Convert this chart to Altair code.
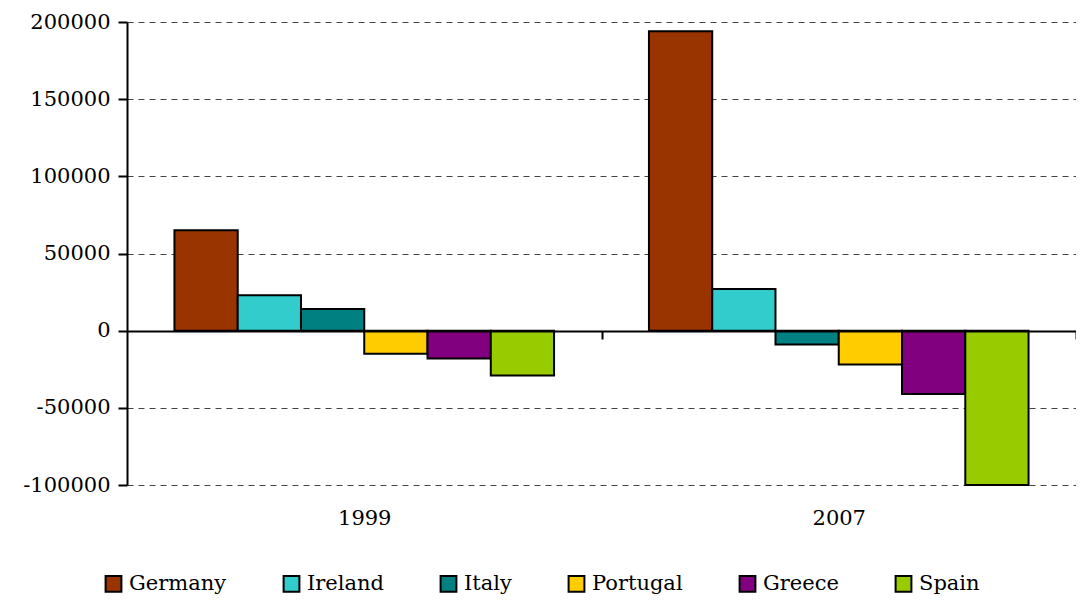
import altair as alt
import pandas as pd

years = ["1999", "2007"]
countries = ["Germany", "Ireland", "Italy", "Portugal", "Greece", "Spain"]
colors = ["#993300", "#33CCCC", "#008080", "#FFCC00", "#800080", "#99CC00"]
values_1999 = [65000, 23000, 14000, -15000, -18000, -29000]
values_2007 = [194000, 27000, -9000, -22000, -41000, -100000]
y_ticks = [-100000, -50000, 0, 50000, 100000, 150000, 200000]

rows = []
for yr, vals in zip(years, [values_1999, values_2007]):
    for c, v in zip(countries, vals):
        rows.append({"year": yr, "country": c, "value": v})
df = pd.DataFrame(rows)

FONT = "DejaVu Serif"
W = 949
HALF_STEP = W / 2 / 2

chart = alt.Chart(df).mark_bar(stroke="black", strokeWidth=2).encode(
    x=alt.X(
        "year:N",
        sort=years,
        scale=alt.Scale(paddingInner=0.2, paddingOuter=0.1),
        axis=alt.Axis(
            title=None, orient="bottom", offset=-154, tickBand="center",
            tickOffset=HALF_STEP, labelOffset=-HALF_STEP,
            domainColor="black", domainWidth=2, tickColor="black", tickWidth=2,
            tickSize=8, labelPadding=168, labelAngle=0, labelFontSize=21,
            labelFont=FONT, labelColor="black", zindex=1,
        ),
    ),
    xOffset=alt.XOffset("country:N", sort=countries,
                        scale=alt.Scale(paddingInner=0, paddingOuter=0)),
    y=alt.Y(
        "value:Q",
        scale=alt.Scale(domain=[-100000, 200000], nice=False, zero=False),
        axis=alt.Axis(
            values=y_ticks, title=None, grid=True, gridDash=[6, 5],
            gridColor="#444", gridWidth=1, domainColor="black", domainWidth=2,
            tickColor="black", tickWidth=2, tickSize=9, labelPadding=8,
            labelFontSize=21, labelFont=FONT, labelColor="black",
            labelExpr="'' + datum.value",
        ),
    ),
    color=alt.Color(
        "country:N",
        sort=countries,
        scale=alt.Scale(domain=countries, range=colors),
        legend=alt.Legend(
            title=None, orient="none", direction="horizontal",
            legendX=-24, legendY=551, padding=0,
            symbolType="square", symbolSize=250, symbolStrokeColor="black",
            symbolStrokeWidth=2, symbolOpacity=1, labelFontSize=21,
            labelFont=FONT, labelColor="black", labelOffset=5,
            columnPadding=52, labelLimit=300,
        ),
    ),
).properties(
    width=W,
    height=463,
    padding={"left": 119, "top": 14, "right": 0, "bottom": 111},
    autosize=alt.AutoSizeParams(type="none"),
).configure_view(stroke=None)

chart.save("out.html", embed_options={"renderer": "svg", "actions": False})
